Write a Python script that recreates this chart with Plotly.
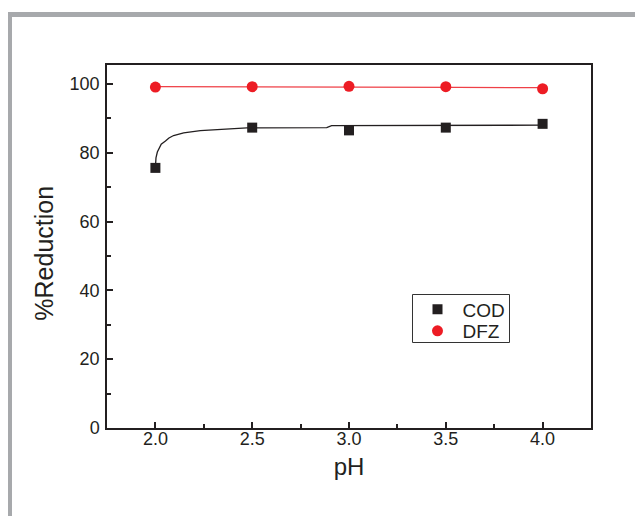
import plotly.graph_objects as go

# ---- data ----
ph = [2.0, 2.5, 3.0, 3.5, 4.0]
cod = [75.6, 87.3, 86.5, 87.3, 88.4]
dfz = [99.1, 99.2, 99.3, 99.2, 98.6]

# fitted curves
cod_fit_x = [2.0, 2.003, 2.01, 2.017, 2.03, 2.052, 2.07, 2.094, 2.146, 2.232, 2.352, 2.473, 2.885, 2.91, 4.0]
cod_fit_y = [75.7, 78.5, 80.2, 81.2, 82.5, 83.4, 84.3, 85.0, 85.8, 86.4, 86.8, 87.2, 87.3, 87.9, 88.0]
dfz_fit_x = [2.0, 3.5, 3.56, 4.0]
dfz_fit_y = [99.2, 99.2, 99.0, 98.9]

x_ticks = [2.0, 2.5, 3.0, 3.5, 4.0]
x_ticklabels = ["2.0", "2.5", "3.0", "3.5", "4.0"]
y_ticks = [0, 20, 40, 60, 80, 100]

BLACK = "#231f20"
RED = "#ed1c24"
FONT = "Liberation Sans, Arial, sans-serif"

# page offset (body margin) and target plot-area geometry on screen
OFF = 8
PL, PT, PW, PH = 107, 65, 484, 363


def px(x):
    return (x - PL) / PW


def py(y):
    return (PT + PH - y) / PH


fig = go.Figure()
fig.add_trace(go.Scatter(x=cod_fit_x, y=cod_fit_y, mode="lines",
                         line=dict(color=BLACK, width=1.3), showlegend=False, hoverinfo="skip"))
fig.add_trace(go.Scatter(x=dfz_fit_x, y=dfz_fit_y, mode="lines",
                         line=dict(color="#ef4047", width=1.3), showlegend=False, hoverinfo="skip"))
fig.add_trace(go.Scatter(x=ph, y=cod, mode="markers", name="COD", legend="legend",
                         marker=dict(symbol="square", size=10, color=BLACK)))
fig.add_trace(go.Scatter(x=ph, y=dfz, mode="markers", name="DFZ", legend="legend2",
                         marker=dict(symbol="circle", size=11, color=RED)))

axis_common = dict(showline=True, linecolor=BLACK, linewidth=1.5, mirror=True,
                   ticks="inside", ticklen=6, tickwidth=1.5, tickcolor=BLACK,
                   showgrid=False, zeroline=False,
                   tickfont=dict(family=FONT, size=18, color=BLACK))

fig.update_xaxes(range=[1.75, 4.25], tickvals=x_ticks, ticktext=x_ticklabels,
                 minor=dict(dtick=0.25, tick0=0, ticks="inside", ticklen=4, tickwidth=1.5, tickcolor=BLACK),
                 title=dict(text="pH", font=dict(family=FONT, size=24, color=BLACK), standoff=10),
                 ticklabelstandoff=-6,
                 **axis_common)
fig.update_yaxes(range=[0, 105.5], tickvals=y_ticks,
                 minor=dict(dtick=10, tick0=0, ticks="inside", ticklen=4, tickwidth=1.5, tickcolor=BLACK),
                 ticklabelstandoff=2,
                 **axis_common)

leg_common = dict(xanchor="left", yanchor="middle", borderwidth=0, bgcolor="rgba(0,0,0,0)",
                  font=dict(family=FONT, size=19, color=BLACK), itemwidth=40)

fig.update_layout(
    width=643, height=516,
    margin=dict(l=PL - OFF, r=643 - (PL - OFF) - PW, t=PT - OFF, b=516 - (PT - OFF) - PH),
    paper_bgcolor="white", plot_bgcolor="white",
    legend=dict(x=px(412.5), y=py(309.5), **leg_common),
    legend2=dict(x=px(412.5), y=py(331), **leg_common),
    annotations=[dict(text="%Reduction", textangle=-90, xref="paper", yref="paper",
                      x=px(43.7), y=py(253), xanchor="center", yanchor="middle",
                      showarrow=False, font=dict(family=FONT, size=25, color=BLACK))],
    shapes=[
        dict(type="rect", xref="paper", yref="paper",
             x0=px(9.5), x1=1.3, y0=-0.4, y1=py(14.5),
             line=dict(color="#a7a9ac", width=5), layer="below"),
        dict(type="rect", xref="paper", yref="paper",
             x0=px(412.5), x1=px(509.5), y0=py(342.5), y1=py(294.5),
             line=dict(color="#333333", width=1), layer="above"),
    ],
)

fig.write_html("out.html")
